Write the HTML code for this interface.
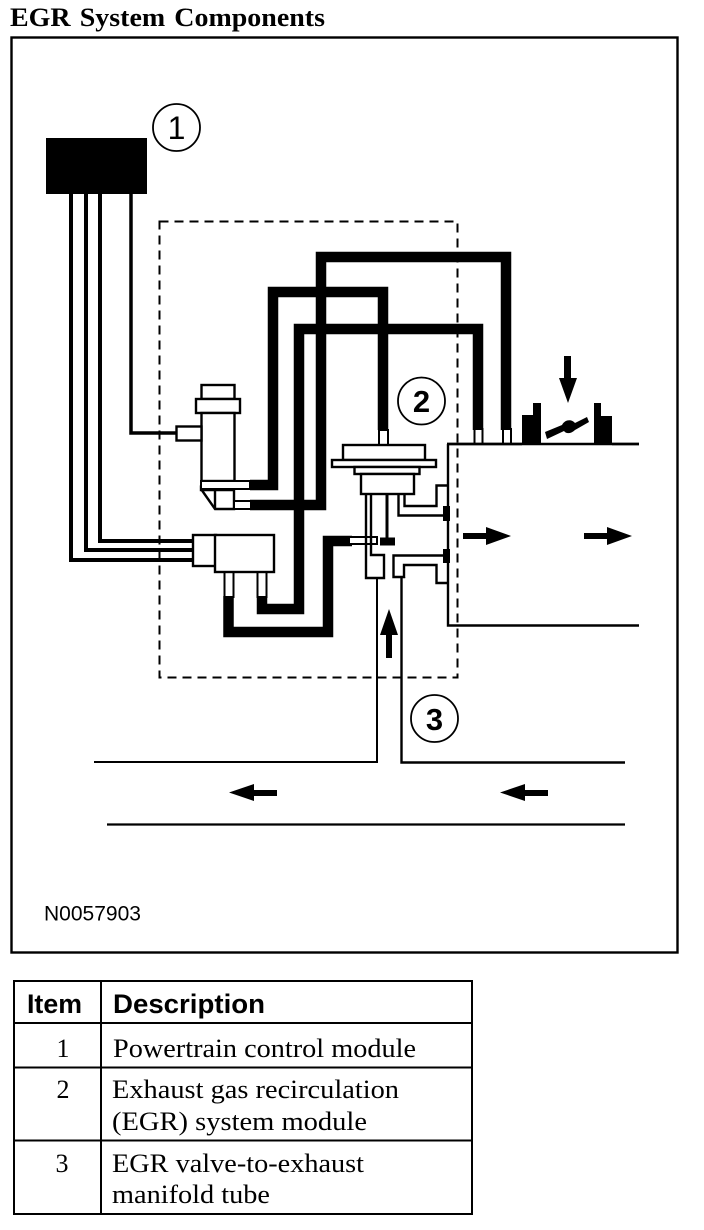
<!DOCTYPE html>
<html><head><meta charset="utf-8"><style>
html,body{margin:0;padding:0;background:#fff}
svg{display:block}
text{fill:#000}
.s{font-family:"Liberation Serif",serif}
.h{font-family:"Liberation Sans",sans-serif}
</style></head><body>
<svg width="704" height="1230" viewBox="0 0 704 1230" xmlns="http://www.w3.org/2000/svg">
<rect width="704" height="1230" fill="#fff"/>
<text class="s" x="10" y="26" font-size="26" font-weight="bold" word-spacing="2" textLength="315" lengthAdjust="spacingAndGlyphs">EGR System Components</text>
<rect x="11.500" y="37.500" width="666" height="915" fill="none" stroke="#000" stroke-width="2.400"/>

<!-- dashed box -->
<rect x="159.500" y="221.500" width="298" height="456" fill="none" stroke="#000" stroke-width="2" stroke-dasharray="9 6"/>

<!-- PCM -->
<rect x="46" y="138" width="101" height="56" fill="#000"/>
<g fill="none" stroke="#000" stroke-width="4">
<path d="M71 194V560H194"/>
<path d="M86 194V550H194"/>
<path d="M100 194V541H194"/>
</g>
<path d="M131 194V433H177" fill="none" stroke="#000" stroke-width="3.500"/>

<circle cx="176.500" cy="127.500" r="23.500" fill="#fff" stroke="#000" stroke-width="1.800"/>
<text class="h" x="176.500" y="139" font-size="32" text-anchor="middle">1</text>
<circle cx="421.500" cy="401" r="23.500" fill="#fff" stroke="#000" stroke-width="1.800"/>
<text class="h" x="421.500" y="412" font-size="31" font-weight="bold" text-anchor="middle">2</text>
<circle cx="434.500" cy="718.500" r="23.500" fill="#fff" stroke="#000" stroke-width="1.800"/>
<text class="h" x="434.500" y="730" font-size="31" font-weight="bold" text-anchor="middle">3</text>

<!-- thick tubes -->
<g fill="none" stroke="#000" stroke-width="10.500" stroke-linejoin="miter">
<path d="M250 485H273V292H383V430"/>
<path d="M262 596V609H299V329H478V430"/>
<path d="M250 505H321V257H506V430"/>
<path d="M228.500 596V632H328V541H352"/>
</g>

<!-- small white tube ends -->
<g fill="#fff" stroke="#000" stroke-width="2">
<rect x="379" y="430" width="9" height="15"/>
<rect x="474.500" y="429" width="8" height="15"/>
<rect x="503" y="429" width="8" height="15"/>
<rect x="224.500" y="572" width="9" height="25"/>
<rect x="257.500" y="572" width="9" height="25"/>
<rect x="349" y="537" width="28" height="7"/>
</g>

<!-- solenoid -->
<g fill="#fff" stroke="#000" stroke-width="2.400">
<rect x="201.500" y="385" width="33" height="14"/>
<rect x="196" y="399" width="44" height="14"/>
<rect x="201.500" y="413" width="33" height="68"/>
<rect x="176.500" y="426.500" width="25" height="14"/>
<path d="M201 481H250V489H201Z" stroke-width="2"/>
<path d="M201 489L215 509H234V490H201Z"/>
<path d="M215 489V509"/>
<rect x="234" y="501" width="17" height="8" stroke-width="2"/>
</g>

<!-- EGR vacuum regulator -->
<g fill="#fff" stroke="#000" stroke-width="2.400">
<rect x="193" y="535" width="23" height="31"/>
<rect x="215" y="535" width="59" height="37"/>
</g>

<!-- valve -->
<g fill="#fff" stroke="#000" stroke-width="2.400">
<rect x="343" y="445" width="82" height="15"/>
<rect x="332" y="460" width="104" height="7"/>
<rect x="354.500" y="467" width="65" height="7"/>
<rect x="361" y="474" width="53" height="20"/>
</g>
<g fill="none" stroke="#000" stroke-width="2.400">
<path d="M366 494V554V578H384V555H371V494"/>
<path d="M387 494V540" stroke-width="3"/>
<path d="M398.500 494V515.500H446"/>
<path d="M404.500 494V506H436.500V485.500H447"/>
<path d="M447 583H436.500V565H404V577H393.500V555.500H446"/>
<path d="M404 577V578"/>
<path d="M448 444V625.500H639"/>
<path d="M447 444H639" stroke-width="2.500"/>
</g>
<rect x="380" y="537.500" width="15" height="8" fill="#000"/>
<rect x="443" y="506" width="7" height="15" fill="#000"/>
<rect x="443" y="549" width="7" height="14" fill="#000"/>

<!-- exhaust -->
<path d="M377 578V762H94" fill="none" stroke="#000" stroke-width="2"/>
<path d="M401.500 577V762.500H625" fill="none" stroke="#000" stroke-width="2.400"/>
<path d="M107 824.500H625" stroke="#000" stroke-width="2.200" fill="none"/>

<!-- arrows -->
<g fill="#000">
<path d="M386 658V635H380L389 609L398 635H392V658Z"/>
<path d="M463 533H486V527L511 536L486 545V539H463Z"/>
<path d="M584 533H607V527L632 536L607 545V539H584Z"/>
<path d="M564 356H571V378H577L568 403L559 378H564Z"/>
<path d="M277 790V796H254V801L229 792.500L254 784V790Z"/>
<path d="M548 790V796H525V801L500 792.500L525 784V790Z"/>
<!-- throttle -->
<path d="M522 444V415H533V403H541V444Z"/>
<path d="M594 444V403H601V416H612V444Z"/>
<path d="M545 432L562 425C565 419 572 419 575 423L587 417L589 422L575 430C571 434 566 434 564 431L547 439Z"/>
</g>
<path d="M447 444H522M612 444H639" stroke="#000" stroke-width="2.500" fill="none"/>

<text class="h" x="44" y="920.500" font-size="21" textLength="97" lengthAdjust="spacingAndGlyphs">N0057903</text>

<!-- table -->
<g fill="none" stroke="#000" stroke-width="2">
<rect x="14" y="981" width="458" height="233"/>
<path d="M101 981V1214M14 1023H472M14 1067.500H472M14 1140.500H472"/>
</g>
<text class="h" x="27" y="1013" font-size="27" font-weight="bold" textLength="55" lengthAdjust="spacingAndGlyphs">Item</text>
<text class="h" x="113" y="1013" font-size="27" font-weight="bold" textLength="152" lengthAdjust="spacingAndGlyphs">Description</text>
<g class="s" font-size="26">
<text x="63" y="1057" text-anchor="middle">1</text>
<text x="113" y="1057" textLength="303" lengthAdjust="spacingAndGlyphs">Powertrain control module</text>
<text x="63" y="1098" text-anchor="middle">2</text>
<text x="112" y="1098" textLength="287" lengthAdjust="spacingAndGlyphs">Exhaust gas recirculation</text>
<text x="112" y="1130" textLength="255" lengthAdjust="spacingAndGlyphs">(EGR) system module</text>
<text x="62" y="1172" text-anchor="middle">3</text>
<text x="112" y="1172" textLength="252" lengthAdjust="spacingAndGlyphs">EGR valve-to-exhaust</text>
<text x="112" y="1203" textLength="158" lengthAdjust="spacingAndGlyphs">manifold tube</text>
</g>
</svg>
</body></html>
